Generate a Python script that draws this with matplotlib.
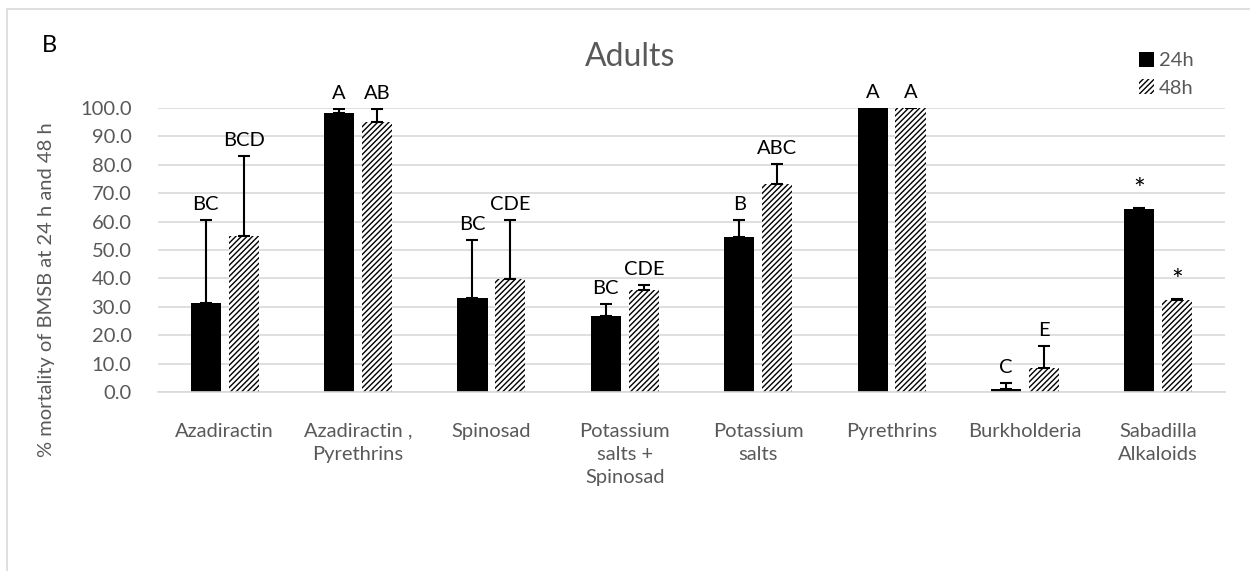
import numpy as np
import matplotlib.pyplot as plt
from matplotlib.patches import Rectangle

plt.rcParams['font.family'] = ['Lato', 'DejaVu Sans']
plt.rcParams['hatch.linewidth'] = 1.0

# Mortality of BMSB adults (%) per treatment, mean and upper error
treatments = ['Azadiractin', 'Azadiractin ,\nPyrethrins', 'Spinosad',
              'Potassium\nsalts +\nSpinosad', 'Potassium\nsalts', 'Pyrethrins',
              'Burkholderia', 'Sabadilla\nAlkaloids']
mort_24h = [31.5, 98.1, 33.0, 26.8, 54.7, 100.0, 1.2, 64.4]
mort_48h = [54.8, 95.2, 39.7, 35.8, 73.1, 100.0, 8.3, 32.3]
err_24h = [29.1, 1.5, 20.5, 4.1, 5.8, 0.0, 1.8, 0.3]
err_48h = [28.4, 4.5, 20.8, 1.8, 7.2, 0.0, 7.9, 0.3]
letters_24h = ['BC', 'A', 'BC', 'BC', 'B', 'A', 'C', '*']
letters_48h = ['BCD', 'AB', 'CDE', 'CDE', 'ABC', 'A', 'E', '*']

grey = '#595959'
x = np.arange(len(treatments))
w = 0.225
off = 0.142

fig = plt.figure(figsize=(12.5, 5.71), dpi=100)
ax = fig.add_axes([158 / 1250, 1 - 392 / 571, 1067 / 1250, 284 / 571])

ax.set_axisbelow(True)
ax.yaxis.grid(True, color='#d9d9d9', lw=1.2)
b1 = ax.bar(x - off, mort_24h, w, color='black', label='24h', zorder=2)
b2 = ax.bar(x + off, mort_48h, w, color='white', edgecolor='black', lw=0,
            hatch='//////', label='48h', zorder=2)

# upper error bars only
ax.errorbar(x - off, mort_24h, yerr=[np.zeros(len(x)), err_24h], fmt='none',
            ecolor='black', elinewidth=1.5, capsize=4, capthick=1.5, zorder=3)
ax.errorbar(x + off, mort_48h, yerr=[np.zeros(len(x)), err_48h], fmt='none',
            ecolor='black', elinewidth=1.5, capsize=4, capthick=1.5, zorder=3)

for i in range(len(x)):
    for xi, top, lab in [(x[i] - off, mort_24h[i] + err_24h[i], letters_24h[i]),
                         (x[i] + off, mort_48h[i] + err_48h[i], letters_48h[i])]:
        if lab == '*':
            ax.text(xi, top + 1.5, lab, ha='center', va='bottom',
                    fontsize=20, color='black')
        else:
            ax.text(xi, top + 2.5, lab, ha='center', va='bottom',
                    fontsize=14.5, color='black')

ax.set_xlim(-0.5, len(x) - 0.5)
ax.set_ylim(0, 100)
ax.set_yticks(np.arange(0, 101, 10))
ax.set_yticklabels([f'{v:.1f}' for v in np.arange(0, 101, 10)])
ax.set_xticks(x)
ax.set_xticklabels(treatments, linespacing=1.45)
ax.tick_params(axis='both', length=0, colors=grey, labelsize=14.5)
ax.tick_params(axis='x', pad=22)
ax.tick_params(axis='y', pad=19)
for s in ['top', 'right', 'left']:
    ax.spines[s].set_visible(False)
ax.spines['bottom'].set_color('#d9d9d9')
ax.spines['bottom'].set_linewidth(1.2)

ax.set_ylabel('% mortality of BMSB at 24 h and 48 h', fontsize=14.5, color=grey)
ax.yaxis.set_label_coords(-103 / 1067, 0.36)

fig.text(630 / 1250, 1 - 57 / 571, 'Adults', ha='center', va='center',
         fontsize=23, color=grey)
fig.text(42 / 1250, 1 - 45 / 571, 'B', ha='left', va='center',
         fontsize=17, color='black')

leg = fig.legend(handles=[b1, b2], loc='upper left',
                 bbox_to_anchor=(1139 / 1250, 1 - 52 / 571), frameon=False,
                 fontsize=14.5, handlelength=0.75, handleheight=0.75,
                 handletextpad=0.25, labelspacing=0.5, borderpad=0,
                 borderaxespad=0)
for t in leg.get_texts():
    t.set_color(grey)

# light frame around the chart area
fig.patches.append(Rectangle((7 / 1250, -0.1), 1.2, 1 - 9 / 571 + 0.1,
                             transform=fig.transFigure, fill=False,
                             edgecolor='#d9d9d9', lw=1.2))

fig.savefig('out.png', dpi=100)
